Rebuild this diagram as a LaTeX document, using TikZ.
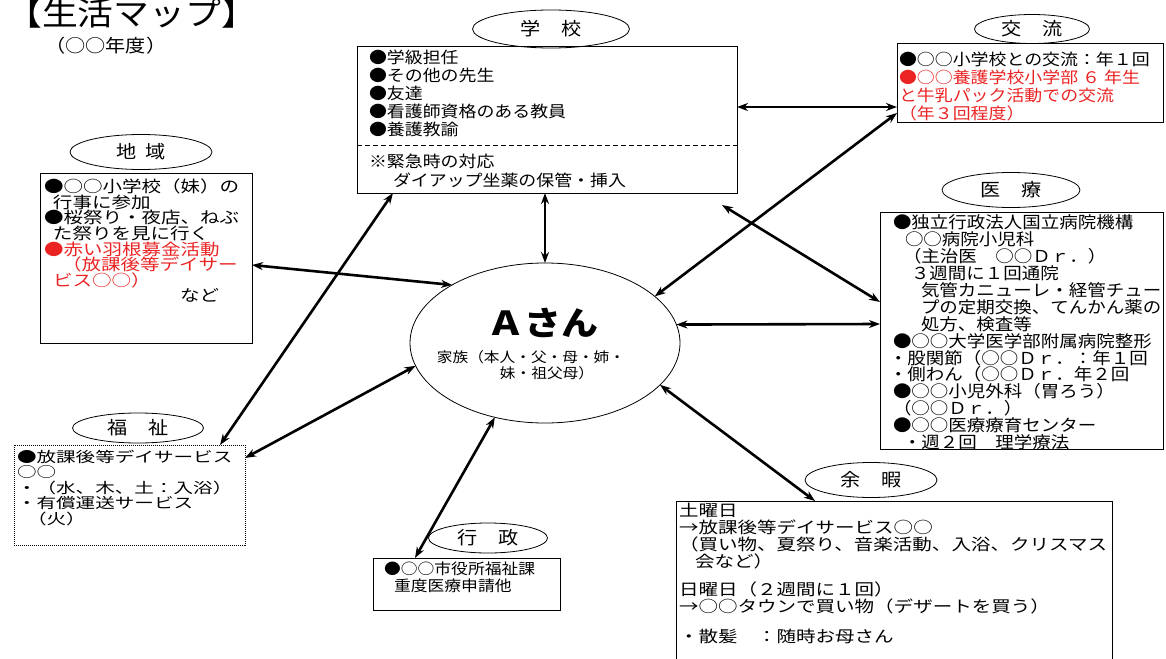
\documentclass[tikz,border=0pt]{standalone}
\usepackage{fontspec}
\setmainfont[FakeStretch=1.12]{Noto Sans CJK JP}
\newfontfamily\wideA[FakeStretch=1.22]{Noto Sans CJK JP}
\newfontfamily\wideB[FakeStretch=1.35]{Noto Sans CJK JP}
\usetikzlibrary{shapes.geometric,arrows.meta}
\definecolor{jred}{RGB}{235,35,35}
\begin{document}
\begin{tikzpicture}[x=1pt,y=-1pt,
  box/.style={draw, line width=1pt, inner sep=0pt, outer sep=0pt, anchor=north west},
  lbl/.style={draw, ellipse, line width=0.8pt, inner sep=0pt, outer sep=0pt, font=\fontsize{18}{18}\selectfont},
  txt/.style={inner sep=0pt, outer sep=0pt, anchor=north west, align=left, execute at begin node={\rule{0pt}{1em}}},
  arr/.style={line width=2.6pt, arrows={Stealth[length=11pt,width=8pt]-Stealth[length=11pt,width=8pt]}}]
\useasboundingbox (0,0) rectangle (1166,658);

% title
\node[inner sep=0pt, anchor=base west, font=\fontsize{32}{32}\selectfont] (title) at (6,26) {【生活マップ】};
\node[inner sep=0pt, anchor=base west, font=\fontsize{18}{18}\selectfont] (year) at (45,53) {（○○年度）};

% ellipse labels
\node[lbl, minimum width=157pt, minimum height=38pt] (lschool) at (551,29) {学　校};
\node[lbl, minimum width=115pt, minimum height=29pt] (lkoryu) at (1032,29) {交　流};
\node[lbl, minimum width=142pt, minimum height=35pt] (lchiiki) at (141,152) {地\hspace{0.5em}域};
\node[lbl, minimum width=138pt, minimum height=35pt] (liryo) at (1011,190) {医　療};
\node[lbl, minimum width=131pt, minimum height=30pt] (lfukushi) at (138,428) {福　祉};
\node[lbl, minimum width=119pt, minimum height=30pt] (lgyosei) at (488,538) {行　政};
\node[lbl, minimum width=132pt, minimum height=35pt] (lyoka) at (871,480) {余　暇};

% boxes
\node[box, minimum width=380pt, minimum height=146pt] (school) at (357,47) {};
\draw[line width=0.8pt, dash pattern=on 5pt off 3pt] (school.west |- 0,145) coordinate (dl) -- (school.east |- 0,145) coordinate (dr);
\node[box, minimum width=266pt, minimum height=79pt] (koryu) at (897,44) {};
\node[box, minimum width=212pt, minimum height=170pt] (chiiki) at (40,173) {};
\node[box, minimum width=283pt, minimum height=237pt] (iryo) at (880,212) {};
\node[box, densely dotted, minimum width=231pt, minimum height=100pt] (fukushi) at (14,445) {};
\node[box, minimum width=187pt, minimum height=52pt] (gyosei) at (373,558) {};
\node[box, minimum width=436pt, minimum height=175pt] (yoka) at (676,501) {};

% central ellipse
\node[draw, ellipse, line width=0.8pt, inner sep=0pt, outer sep=0pt, minimum width=270pt, minimum height=160pt] (asan) at (545,343) {};
\node[inner sep=0pt, font=\fontsize{33}{33}\selectfont\bfseries] (aname) at (543,323) {Ａさん};
\node[inner sep=0pt, font=\fontsize{14}{14}\selectfont] (fam1) at (531,357) {家族（本人・父・母・姉・};
\node[inner sep=0pt, font=\fontsize{14}{14}\selectfont] (fam2) at (547,373) {妹・祖父母）};

% texts
\node[txt, font=\fontsize{16}{17.9}\selectfont] (tschool1) at (369,50) {●学級担任\\●その他の先生\\●友達\\●看護師資格のある教員\\●養護教諭};
\node[txt, font=\fontsize{16}{19}\selectfont] (tschool2) at (369,154) {※緊急時の対応\\\hspace*{24pt}ダイアップ坐薬の保管・挿入};
\node[txt, font=\fontsize{16}{18}\selectfont] (tkoryu) at (899,52) {●○○小学校との交流：年１回\\\textcolor{jred}{●○○養護学校小学部 ６ 年生}\\\textcolor{jred}{と牛乳パック活動での交流}\\\textcolor{jred}{（年３回程度）}};
\node[txt, font=\wideA\fontsize{16}{15.6}\selectfont] (tchiiki) at (44,179) {●○○小学校（妹）の\\\hspace*{9pt}行事に参加\\●桜祭り・夜店、ねぶ\\\hspace*{9pt}た祭りを見に行く\\\textcolor{jred}{●赤い羽根募金活動}\\\hspace*{18pt}\textcolor{jred}{（放課後等デイサー}\\\hspace*{9pt}\textcolor{jred}{ビス○○）}\\\hspace*{136pt}など};
\node[txt, font=\fontsize{16.5}{16.9}\selectfont] (tiryo) at (893,215) {●独立行政法人国立病院機構\\\hspace*{12pt}○○病院小児科\\\hspace*{10pt}（主治医　○○Ｄｒ．）\\\hspace*{18pt}３週間に１回通院\\\hspace*{28pt}気管カニューレ・経管チュー\\\hspace*{28pt}プの定期交換、てんかん薬の\\\hspace*{28pt}処方、検査等\\●○○大学医学部附属病院整形\\\hspace*{-4pt}・股関節（○○Ｄｒ．：年１回\\\hspace*{-4pt}・側わん（○○Ｄｒ．年２回\\●○○小児外科（胃ろう）\\（○○Ｄｒ．）\\●○○医療療育センター\\\hspace*{10pt}・週２回　理学療法};
\node[txt, font=\wideB\fontsize{14.5}{15.5}\selectfont] (tfukushi) at (17,450) {●放課後等デイサービス\\○○\\・（水、木、土：入浴）\\・有償運送サービス\\\hspace*{10pt}（火）};
\node[txt, font=\fontsize{15}{16.5}\selectfont] (tgyosei) at (384,562) {●○○市役所福祉課\\\hspace*{10pt}重度医療申請他};
\node[txt, font=\wideA\fontsize{16}{17}\selectfont] (tyoka) at (679,503) {土曜日\\→放課後等デイサービス○○\\（買い物、夏祭り、音楽活動、入浴、クリスマス\\\hspace*{16pt}会など）\\[11pt]日曜日（２週間に１回）\\→○○タウンで買い物（デザートを買う）\\[13pt]・散髪　：随時お母さん};

% connectors
\coordinate (m1) at (722,205);
\draw[arr] ([xshift=36pt]school.south west) -- ([xshift=-25pt]fukushi.north east);
\draw[arr] ([xshift=188pt]school.south west) -- (asan.north);
\draw[arr] ([yshift=-60pt]school.north east) -- ([yshift=-63pt]koryu.north west);
\draw[arr] ([yshift=-92pt]chiiki.north east) -- (asan.148);
\draw[arr] ([yshift=-13pt]fukushi.north east) -- (asan.190);
\draw[arr] ([yshift=-69pt]koryu.north west) -- (asan.23);
\draw[arr] (m1) -- ([yshift=-90pt]iryo.north west);
\draw[arr] (asan.8) -- ([yshift=-112pt]iryo.north west);
\draw[arr] (asan.236) -- ([xshift=42pt]gyosei.north west);
\draw[arr] (asan.340) -- ([xshift=139pt]yoka.north west);
\end{tikzpicture}
\end{document}
